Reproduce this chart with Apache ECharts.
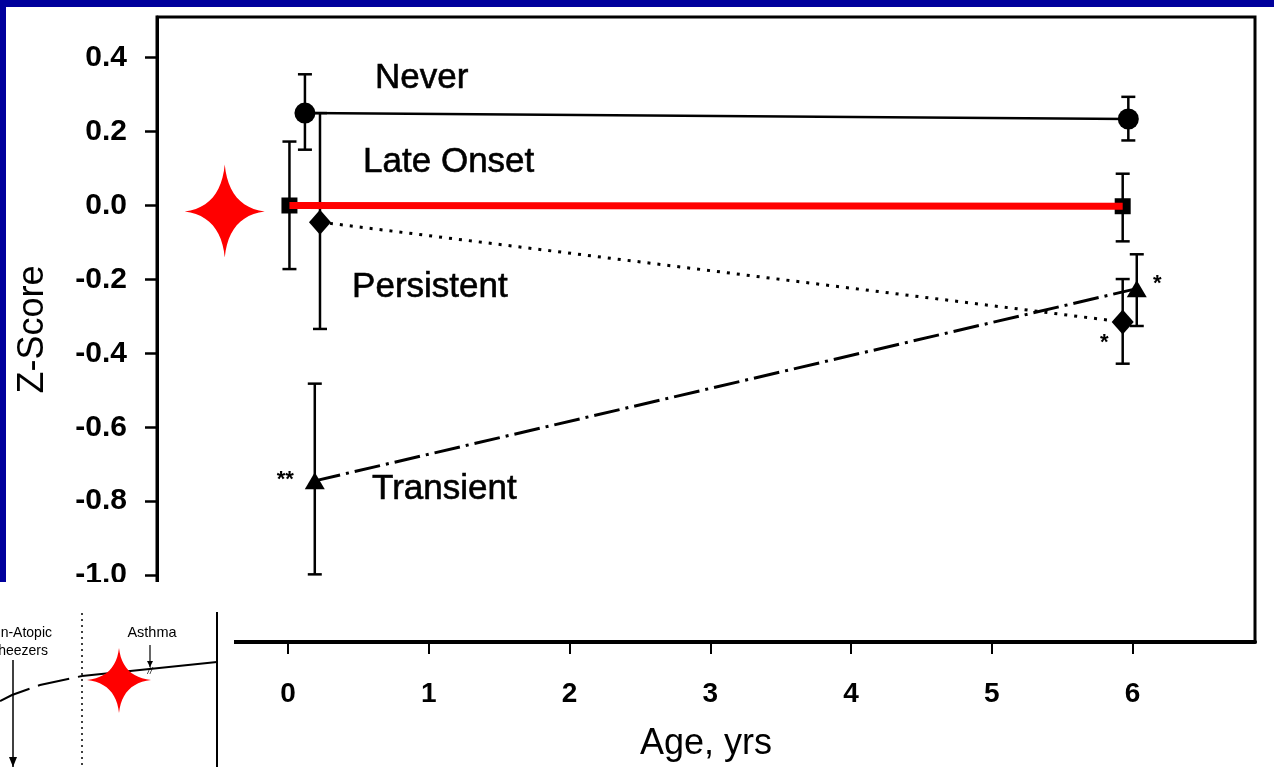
<!DOCTYPE html>
<html>
<head>
<meta charset="utf-8">
<script src="https://cdn.jsdelivr.net/npm/echarts@6/dist/echarts.min.js"></script>
<style>
html,body{margin:0;padding:0;background:#fff;}
#c{width:1274px;height:767px;}
</style>
</head>
<body>
<div id="c"></div>
<script>
// ---- data ----
const xTicks = [0, 1, 2, 3, 4, 5, 6];
const yTicks = [-1.0, -0.8, -0.6, -0.4, -0.2, 0.0, 0.2, 0.4];

const neverX = [0.12, 5.97];
const neverY = [0.25, 0.234];
const neverLo = [0.151, 0.176];
const neverHi = [0.355, 0.294];

const lateX = [0.01, 5.93];
const lateY = [0.0, -0.002];
const lateLo = [-0.172, -0.097];
const lateHi = [0.173, 0.086];

const persX = [0.227, 5.93];
const persY = [-0.045, -0.315];
const persLo = [-0.334, -0.428];
const persHi = [0.25, -0.199];

const tranX = [0.19, 6.03];
const tranY = [-0.745, -0.225];
const tranLo = [-0.998, -0.326];
const tranHi = [-0.482, -0.132];

const groupNames = ['Never', 'Late Onset', 'Persistent', 'Transient'];
// annotation texts, anchored in data coordinates
const annotations = [
  {text: 'Never', x: 0.618, y: 0.344},
  {text: 'Late Onset', x: 0.533, y: 0.116},
  {text: 'Persistent', x: 0.455, y: -0.221},
  {text: 'Transient', x: 0.597, y: -0.767}
];
const marks = [
  {text: '**', x: -0.02, y: -0.729},
  {text: '*', x: 6.176, y: -0.199},
  {text: '*', x: 5.80, y: -0.358}
];

const FONT = '"Liberation Sans", Arial, sans-serif';
const BLUE = '#00009C';

function pts(xs, ys) { return xs.map((x, i) => [x, ys[i]]); }
function errs(xs, lo, hi) { return xs.map((x, i) => [x, lo[i], hi[i]]); }

function errRender(params, api) {
  const x = api.value(0), lo = api.value(1), hi = api.value(2);
  const a = api.coord([x, lo]), b = api.coord([x, hi]);
  const w = 7;
  const st = {stroke: '#000', lineWidth: 2.5};
  return {
    type: 'group',
    children: [
      {type: 'line', shape: {x1: a[0], y1: a[1], x2: b[0], y2: b[1]}, style: st},
      {type: 'line', shape: {x1: a[0] - w, y1: a[1], x2: a[0] + w, y2: a[1]}, style: st},
      {type: 'line', shape: {x1: b[0] - w, y1: b[1], x2: b[0] + w, y2: b[1]}, style: st}
    ]
  };
}
function errSeries(data) {
  return {type: 'custom', renderItem: errRender, data: data, encode: {x: 0, y: [1, 2]}, z: 2, silent: true};
}

const chart = echarts.init(document.getElementById('c'), null, {renderer: 'canvas'});

const option = {
  backgroundColor: '#fff',
  animation: false,
  grid: {left: 157, right: 19, top: 17, bottom: 122, show: true, borderColor: '#000', borderWidth: 3},
  xAxis: {
    type: 'value', min: -0.931, max: 6.87,
    name: 'Age, yrs', nameLocation: 'middle', nameGap: 84,
    nameTextStyle: {fontFamily: FONT, fontSize: 36, color: '#000'},
    axisLine: {show: true, onZero: false, lineStyle: {color: '#000', width: 4}},
    axisTick: {show: true, customValues: xTicks, length: 12, lineStyle: {color: '#000', width: 2}},
    axisLabel: {customValues: xTicks, margin: 38, fontFamily: FONT, fontSize: 28, fontWeight: 'bold', color: '#000'},
    splitLine: {show: false}
  },
  yAxis: {
    type: 'value', min: -1.181, max: 0.51,
    name: 'Z-Score', nameLocation: 'middle', nameGap: 106, nameRotate: 90,
    nameTextStyle: {fontFamily: FONT, fontSize: 36, color: '#000'},
    axisLine: {show: true, onZero: false, lineStyle: {color: '#000', width: 3}},
    axisTick: {show: true, customValues: yTicks, length: 12, lineStyle: {color: '#000', width: 2.5}},
    axisLabel: {customValues: yTicks, margin: 30, fontFamily: FONT, fontSize: 30, fontWeight: 'bold', color: '#000',
      formatter: v => v.toFixed(1)},
    splitLine: {show: false}
  },
  series: [
    errSeries(errs(neverX, neverLo, neverHi)),
    errSeries(errs(lateX, lateLo, lateHi)),
    errSeries(errs(persX, persLo, persHi)),
    errSeries(errs(tranX, tranLo, tranHi)),
    {name: groupNames[0], type: 'line', data: pts(neverX, neverY), symbol: 'circle', symbolSize: 21,
      itemStyle: {color: '#000'}, lineStyle: {color: '#000', width: 2.5}, z: 3},
    {name: groupNames[1], type: 'line', data: pts(lateX, lateY), symbol: 'rect', symbolSize: 16,
      itemStyle: {color: '#000'}, lineStyle: {color: '#000', width: 2.5, type: [22, 8]}, z: 3},
    {name: groupNames[2], type: 'line', data: pts(persX, persY), symbol: 'diamond', symbolSize: [22, 25],
      itemStyle: {color: '#000'}, lineStyle: {color: '#000', width: 3, type: [3, 7]}, z: 3},
    {name: groupNames[3], type: 'line', data: pts(tranX, tranY), symbol: 'triangle', symbolSize: [20, 17],
      itemStyle: {color: '#000'}, lineStyle: {color: '#000', width: 3, type: [26, 6, 3, 6]}, z: 3},
    {name: groupNames[1] + ' highlight', type: 'line', data: pts(lateX, lateY), symbol: 'none',
      lineStyle: {color: '#FF0000', width: 7}, z: 6}
  ]
};
chart.setOption(option);

// 4-pointed star as polygon, concave edges sampled from quadratic curves
function starPoints(cx, cy, rx, ryUp, ryDown) {
  const c = 0.1;
  const tips = [[0, -ryUp], [rx, 0], [0, ryDown], [-rx, 0]];
  const out = [];
  for (let k = 0; k < 4; k++) {
    const p0 = tips[k], p2 = tips[(k + 1) % 4];
    const ctrl = [(p0[0] + p2[0]) * c, (p0[1] + p2[1]) * c];
    for (let i = 0; i < 12; i++) {
      const t = i / 12, u = 1 - t;
      out.push([cx + u * u * p0[0] + 2 * u * t * ctrl[0] + t * t * p2[0],
                cy + u * u * p0[1] + 2 * u * t * ctrl[1] + t * t * p2[1]]);
    }
  }
  return out;
}

const g = [];
// blue frame
g.push({type: 'rect', shape: {x: 0, y: 0, width: 1274, height: 7}, style: {fill: BLUE}, z: 50});
g.push({type: 'rect', shape: {x: 0, y: 0, width: 6, height: 583}, style: {fill: BLUE}, z: 50});

// group labels
annotations.forEach(a => {
  const p = chart.convertToPixel({gridIndex: 0}, [a.x, a.y]);
  g.push({type: 'text', x: p[0], y: p[1], z: 20,
    style: {text: a.text, fill: '#000', font: '35px ' + FONT, textAlign: 'left', textVerticalAlign: 'middle',
      stroke: '#000', lineWidth: 0.6}});
});
marks.forEach(a => {
  const p = chart.convertToPixel({gridIndex: 0}, [a.x, a.y]);
  g.push({type: 'text', x: p[0], y: p[1] + 5, z: 20,
    style: {text: a.text, fill: '#000', font: 'bold 22px ' + FONT, textAlign: 'center', textVerticalAlign: 'middle'}});
});

// red star next to the 0.0 line
const s0 = chart.convertToPixel({gridIndex: 0}, [-0.4, 0]);
g.push({type: 'polygon', z: 30, shape: {points: starPoints(s0[0] - 7, s0[1] + 6, 40, 47, 46)}, style: {fill: '#FF0000'}});

// inset picture (bottom-left), drawn over the chart
const Z = 80;
const insetItems = [
  {type: 'rect', z: Z, shape: {x: 0, y: 582, width: 234, height: 185}, style: {fill: '#fff'}},
  {type: 'line', z: Z + 1, shape: {x1: 82, y1: 613, x2: 82, y2: 767}, style: {stroke: '#000', lineWidth: 1.5, lineDash: [2, 4]}},
  {type: 'line', z: Z + 1, shape: {x1: 217, y1: 612, x2: 217, y2: 767}, style: {stroke: '#000', lineWidth: 2}},
  {type: 'polyline', z: Z + 1, shape: {points: [[0, 701], [12, 695], [40, 685], [82, 676]]}, style: {stroke: '#000', lineWidth: 2, lineDash: [32, 9], fill: null}},
  {type: 'polyline', z: Z + 1, shape: {points: [[82, 676], [217, 662]]}, style: {stroke: '#000', lineWidth: 2, fill: null}},
  {type: 'line', z: Z + 1, shape: {x1: 13, y1: 660, x2: 13, y2: 767}, style: {stroke: '#000', lineWidth: 1.5}},
  {type: 'polygon', z: Z + 1, shape: {points: [[9, 757], [17, 757], [13, 767]]}, style: {fill: '#000'}},
  {type: 'line', z: Z + 1, shape: {x1: 150, y1: 645, x2: 150, y2: 667}, style: {stroke: '#000', lineWidth: 1.2}},
  {type: 'polygon', z: Z + 1, shape: {points: [[147, 661], [153, 661], [150, 667]]}, style: {fill: '#000'}},
  {type: 'text', z: Z + 1, x: 150, y: 671, style: {text: '//', fill: '#000', font: 'italic 9px ' + FONT, textAlign: 'center', textVerticalAlign: 'middle'}},
  {type: 'text', z: Z + 1, x: 52, y: 633, style: {text: 'Non-Atopic', fill: '#000', font: '14px ' + FONT, textAlign: 'right', textVerticalAlign: 'middle'}},
  {type: 'text', z: Z + 1, x: 48, y: 651, style: {text: 'Wheezers', fill: '#000', font: '14px ' + FONT, textAlign: 'right', textVerticalAlign: 'middle'}},
  {type: 'text', z: Z + 1, x: 152, y: 633, style: {text: 'Asthma', fill: '#000', font: '14.5px ' + FONT, textAlign: 'center', textVerticalAlign: 'middle'}},
  {type: 'polygon', z: Z + 2, shape: {points: starPoints(119, 680, 32, 32, 33)}, style: {fill: '#FF0000'}}
];
insetItems.forEach(it => g.push(it));

chart.setOption({graphic: g});
</script>
</body>
</html>
